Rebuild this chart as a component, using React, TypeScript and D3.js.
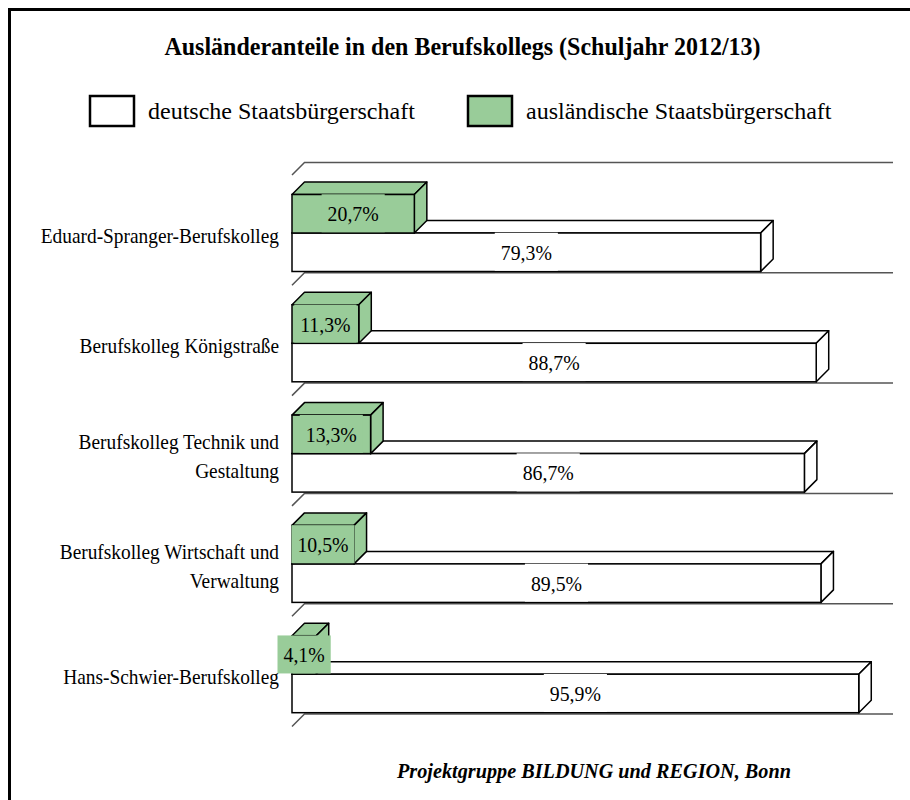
import React, { useEffect, useRef } from 'react';
import * as d3 from 'd3';

// Berufskollegs, Anteil nach Staatsbürgerschaft (Schuljahr 2012/13)
const schools = [
  'Eduard-Spranger-Berufskolleg',
  'Berufskolleg Königstraße',
  'Berufskolleg Technik und\nGestaltung',
  'Berufskolleg Wirtschaft und\nVerwaltung',
  'Hans-Schwier-Berufskolleg',
];
const foreignShare = [20.7, 11.3, 13.3, 10.5, 4.1];
const germanShare = [79.3, 88.7, 86.7, 89.5, 95.9];
const seriesNames = ['deutsche Staatsbürgerschaft', 'ausländische Staatsbürgerschaft'];
const seriesColors = ['#ffffff', '#99cc99'];

const W = 910, H = 800;
const FONT = '"Liberation Serif", "Times New Roman", serif';

const fmt = (v: number) => v.toFixed(1).replace('.', ',') + '%';

function App() {
  const ref = useRef<SVGSVGElement | null>(null);

  useEffect(() => {
    const svg = d3.select(ref.current);
    svg.selectAll('*').remove();

    const depth = 12.5;
    const x = d3.scaleLinear().domain([0, 100]).range([292, 883]);
    const y = d3.scaleBand<number>().domain(d3.range(schools.length)).range([175, 726.5]);
    const barH = 38.5, barOff = 19.5;

    // scaled text helper (source font renders narrow)
    const txt = (g: any, tx: number, ty: number, s: string, size: number, sx: number, anchor = 'start', weight = 'normal', style = 'normal') =>
      g.append('text')
        .attr('transform', `translate(${tx},${ty}) scale(${sx},1)`)
        .attr('text-anchor', anchor)
        .style('font-family', FONT)
        .style('font-size', size + 'px')
        .style('font-weight', weight)
        .style('font-style', style)
        .attr('fill', '#000')
        .text(s);

    // frame
    svg.append('rect')
      .attr('x', 9.5).attr('y', 9.5).attr('width', W).attr('height', H)
      .attr('fill', '#fff').attr('stroke', '#000').attr('stroke-width', 3);

    txt(svg, 462.5, 55, 'Ausländeranteile in den Berufskollegs (Schuljahr 2012/13)', 25, 0.96, 'middle', 'bold');

    // legend
    const legX = [90, 468];
    seriesNames.forEach((name, i) => {
      svg.append('rect')
        .attr('x', legX[i]).attr('y', 96).attr('width', 44).attr('height', 30)
        .attr('fill', seriesColors[i]).attr('stroke', '#000').attr('stroke-width', 2.5);
      txt(svg, legX[i] + 58, 119, name, 24, 1, 'start');
    });

    // floor separators
    const seps = [...y.domain().map(i => y(i) as number), y.range()[1]];
    const gs = svg.append('g');
    seps.forEach(fy => {
      gs.append('path')
        .attr('d', `M${x(0)},${fy}L${x(0) + depth},${fy - depth}L${x(100) + 10},${fy - depth}`)
        .attr('fill', 'none').attr('stroke', '#555').attr('stroke-width', 1.5);
    });

    const box3d = (g: any, v: number, top: number, fill: string) => {
      const x0 = x(0), x1 = x(v), b = top + barH, d = depth;
      g.append('path')
        .attr('d', `M${x0},${top}L${x0 + d},${top - d}L${x1 + d},${top - d}L${x1},${top}Z`)
        .attr('fill', fill).attr('stroke', '#000').attr('stroke-width', 1.5).attr('stroke-linejoin', 'round');
      g.append('path')
        .attr('d', `M${x1},${top}L${x1 + d},${top - d}L${x1 + d},${b - d}L${x1},${b}Z`)
        .attr('fill', fill).attr('stroke', '#000').attr('stroke-width', 1.5).attr('stroke-linejoin', 'round');
      g.append('rect')
        .attr('x', x0).attr('y', top).attr('width', x1 - x0).attr('height', barH)
        .attr('fill', fill).attr('stroke', '#000').attr('stroke-width', 1.5);
    };

    const gb = svg.append('g');
    schools.forEach((_, i) => {
      const band = y(i) as number;
      box3d(gb, germanShare[i], band + barOff + barH, seriesColors[0]);
      box3d(gb, foreignShare[i], band + barOff, seriesColors[1]);
    });

    // data labels with background boxes
    const gl = svg.append('g');
    const label = (v: number, top: number, fill: string) => {
      const cx = (x(0) + x(v)) / 2, cy = top + barH / 2;
      const r = gl.append('rect').attr('fill', fill);
      const t = txt(gl, cx, cy + 7.5, fmt(v), 22, 0.9, 'middle');
      const w = (t.node() as SVGTextElement).getBBox().width * 0.9 + 12;
      r.attr('x', cx - w / 2).attr('y', cy - 19.5).attr('width', w).attr('height', 38);
    };
    schools.forEach((_, i) => {
      const band = y(i) as number;
      label(germanShare[i], band + barOff + barH, seriesColors[0]);
      label(foreignShare[i], band + barOff, seriesColors[1]);
    });

    // category labels
    schools.forEach((s, i) => {
      const cy = (y(i) as number) + barOff + barH;
      const lines = s.split('\n');
      lines.forEach((ln, k) => {
        const by = cy + 10 + (k - (lines.length - 1) / 2) * 29;
        txt(svg, 279, by, ln, 22, 0.88, 'end');
      });
    });

    txt(svg, 397, 778, 'Projektgruppe BILDUNG und REGION, Bonn', 22, 0.92, 'start', 'bold', 'italic');
  }, []);

  return (
    <svg ref={ref} width={W} height={H} style={{ position: 'absolute', left: 0, top: 0, display: 'block' }} />
  );
}

export default App;
